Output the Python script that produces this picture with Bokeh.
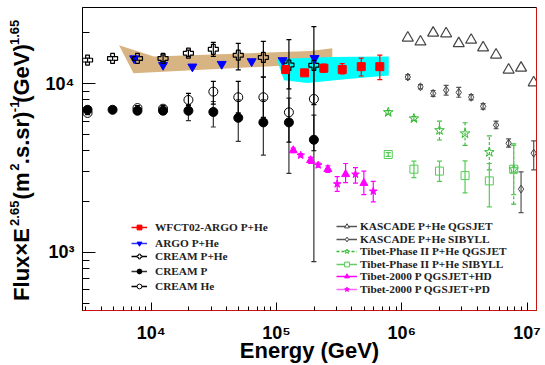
import math
from bokeh.plotting import figure
from bokeh.models import (Legend, LegendItem, FixedTicker, LogAxis, CustomJSTickFormatter)
from bokeh.embed import file_html
from bokeh.resources import INLINE

# ---------------- data ----------------
cream_e = [3100, 4910, 7760, 12420, 19800, 31300, 49500, 78500, 125600, 198700]
creamphe_f = [13780, 14100, 14100, 14100, 15140, 15960, 14740, 14290, 12890, 12840]
creamphe_lo = [13400, 13750, 13750, 13500, 14480, 14480, 12050, 10940, 9300, 7500]
creamphe_hi = [14150, 14450, 14450, 14800, 15800, 17570, 17300, 17800, 18240, 21780]

creamp_f = [6995, 6995, 6905, 6905, 6905, 6790, 6268, 5888, 5888, 4647]
creamp_lo = [6850, 6850, 6700, 6650, 6040, 5530, 4550, 3770, 2940, 880]
creamp_hi = [7150, 7150, 7100, 7150, 7480, 7830, 8000, 8000, 8200, 6500]

creamhe_e = [3100, 7760, 12420, 19800, 31300, 49500, 78500, 125600, 198700]
creamhe_f = [6700, 7160, 7100, 8000, 8960, 8300, 8300, 6760, 8110]
creamhe_lo = [6550, 6950, 6850, 7420, 7550, 6700, 6300, 4500, 4000]
creamhe_hi = [6850, 7400, 7400, 8740, 10310, 10300, 10930, 12000, 14000]

argo_e = [7300, 12420, 21300, 36500, 63300, 111900, 201400]
argo_f = [14100, 12890, 12600, 13060, 13550, 13740, 14150]

argo_band_e = [5530, 10500, 187000, 278600, 278600, 100000, 7210]
argo_band_f = [16900, 14450, 15600, 16180, 13420, 12700, 11530]

wfct_band_e = [100300, 270000, 787000, 787000, 389000, 176000, 114600]
wfct_band_f = [13970, 14360, 14490, 11170, 10690, 10090, 10450]

wfct_e = [118300, 167500, 238700, 334700, 474700, 668000]
wfct_f = [12110, 11580, 12330, 12110, 12600, 12600]
wfct_lo = [11750, 11250, 11690, 11430, 11090, 10550]
wfct_hi = [12480, 11920, 13060, 13120, 14160, 14730]

kas_e = [1.117e6, 1.41e6, 1.78e6, 2.26e6, 2.85e6, 3.58e6, 4.46e6, 5.66e6, 7.13e6, 8.96e6, 1.13e7]
kasq_f = [18660, 17690, 19950, 19780, 17300, 18120, 16330, 14800, 12060, 12380, 10130]
kass_f = [10940, 9570, 8750, 9140, 8870, 8300, 7330, 5680, 4430, 2370, 3870]
kass_lo = [10600, 9300, 8400, 8550, 8300, 8000, 7050, 5400, 4200, 1720, 3080]
kass_hi = [11300, 9850, 9100, 9770, 9500, 8600, 7600, 6000, 4700, 3000, 4580]

tib_e = [7.8e5, 1.25e6, 2.0e6, 3.2e6, 5.0e6, 7.82e6]
tibq_f = [6760, 6210, 5290, 5060, 3920, 3100]
tibq_lo = [6600, 6050, 4630, 4300, 3080, 1930]
tibq_hi = [6920, 6370, 6000, 5860, 4900, 4390]
tibs_f = [3800, 3110, 3030, 2850, 2650, 3110]
tibs_lo = [3700, 2770, 2630, 2250, 1860, 2200]
tibs_hi = [3900, 3470, 3470, 3480, 3360, 4300]

hd_e = [1.36e5, 1.87e5, 2.57e5, 3.56e5, 4.98e5]
hd_f = [4020, 3510, 3110, 2900, 2570]
hd_lo = [3900, 3370, 2980, 2590, 2200]
hd_hi = [4150, 3650, 3250, 3360, 3030]

pd_e = [1.56e5, 2.15e5, 3.05e5, 4.27e5, 5.92e5]
pd_f = [3760, 3290, 2540, 2900, 2300]
pd_lo = [3680, 3200, 2300, 2570, 1990]
pd_hi = [3850, 3380, 2810, 3180, 2630]

x_major = [1e4, 1e5, 1e6, 1e7]
x_minor = [m * 10 ** k for k in range(3, 7) for m in range(2, 10) if 2825 < m * 10 ** k < 1.19e7]
y_major = [1e3, 1e4]
y_minor = [m * 10 ** k for k in range(2, 5) for m in range(2, 10) if 452 < m * 10 ** k < 28250]

# y-title pieces: (text, centre on the canvas, in pixels from the top)
ytitle_main = ["Flux\u00d7E", "(m", ".s.sr)", "(GeV)"]
ytitle_main_c = [270.0, 189.6, 140.4, 74.5]
ytitle_sup = ["2.65", "2", "-1", "1.65"]
ytitle_sup_c = [217.5, 170.4, 108.2, 32.5]

# ---------------- figure ----------------
Y0, Y1 = 452, 28250
TOP, FH = 7, 310
p = figure(width=545, height=365, x_axis_type="log", y_axis_type="log",
           x_range=(2825, 1.19e7), y_range=(Y0, Y1),
           output_backend="svg", toolbar_location=None,
           min_border_left=82, min_border_right=9, min_border_top=TOP, min_border_bottom=48)
p.xgrid.visible = False
p.ygrid.visible = False
p.outline_line_color = "black"
p.outline_line_width = 1
p.background_fill_color = "white"

fmt = CustomJSTickFormatter(code="""
const e = Math.round(Math.log10(tick));
const s = {2:'\u00b2',3:'\u00b3',4:'\u2074',5:'\u2075',6:'\u2076',7:'\u2077'};
return '10' + s[e];
""")
for ax, maj, mnr, tin, tmin in ((p.xaxis[0], x_major, x_minor, 8, 4), (p.yaxis[0], y_major, y_minor, 13, 7)):
    ax.ticker = FixedTicker(ticks=maj, minor_ticks=mnr)
    ax.formatter = fmt
    ax.major_tick_in = tin
    ax.major_tick_out = 0
    ax.minor_tick_in = tmin
    ax.minor_tick_out = 0
    ax.major_label_text_font = "Liberation Sans"
    ax.major_label_text_font_style = "bold"
    ax.major_label_text_font_size = "18px"
    ax.major_label_text_color = "black"
    ax.major_label_standoff = 8
    ax.axis_line_color = "black"
    ax.major_tick_line_color = "black"
    ax.minor_tick_line_color = "black"
p.xaxis.major_label_standoff = 12
p.xaxis.axis_line_color = "#cc1111"
p.xaxis.axis_label = "Energy (GeV)"
p.xaxis.axis_label_text_font = "Liberation Sans"
p.xaxis.axis_label_text_font_style = "bold"
p.xaxis.axis_label_text_font_size = "22px"
p.xaxis.axis_label_text_color = "black"
p.xaxis.axis_label_standoff = -8

ra = LogAxis(ticker=FixedTicker(ticks=[], minor_ticks=[]), axis_line_color="#cc1111",
             major_tick_in=0, major_tick_out=0, minor_tick_in=0, minor_tick_out=0,
             major_label_standoff=0)
p.add_layout(ra, "right")

# y title drawn as the labels of two label-only axes (main text and superscripts)
pxdec = FH / (math.log10(Y1) - math.log10(Y0))


def canvas_to_y(cy):
    return 10 ** (math.log10(Y1) - (cy - TOP) / pxdec)


for texts, cents, size, standoff in ((ytitle_main, ytitle_main_c, "22px", 8),
                                     (ytitle_sup, ytitle_sup_c, "13px", -13)):
    vals = [canvas_to_y(c) for c in cents]
    order = sorted(range(len(vals)), key=lambda i: vals[i])
    vals = [vals[i] for i in order]
    labs = [texts[i] for i in order]
    ax = LogAxis(ticker=FixedTicker(ticks=vals, minor_ticks=[]),
                 formatter=CustomJSTickFormatter(args=dict(vals=vals, labs=labs), code="""
const i = vals.findIndex(v => Math.abs(v - tick) < 1e-6 * v);
return i < 0 ? '' : labs[i];
"""),
                 axis_line_color=None, major_tick_line_color=None, minor_tick_line_color=None,
                 major_tick_in=0, major_tick_out=0, minor_tick_in=0, minor_tick_out=0,
                 major_label_orientation="vertical", major_label_standoff=standoff,
                 major_label_text_font="Liberation Sans", major_label_text_font_style="bold",
                 major_label_text_font_size=size, major_label_text_color="black")
    p.add_layout(ax, "left")

# bands
p.patch(argo_band_e, argo_band_f, fill_color="#d8b483", line_color=None)
p.patch(wfct_band_e, wfct_band_f, fill_color="#00ffff", line_color=None)


def errbars(e, lo, hi, color, dash="solid"):
    p.segment(x0=e, y0=lo, x1=e, y1=hi, line_color=color, line_width=1.2, line_dash=dash)
    p.scatter(e, lo, marker="dash", size=5, line_color=color, line_width=1.2)
    p.scatter(e, hi, marker="dash", size=5, line_color=color, line_width=1.2)


errbars(cream_e, creamphe_lo, creamphe_hi, "black")
errbars(cream_e, creamp_lo, creamp_hi, "#333333")
errbars(creamhe_e, creamhe_lo, creamhe_hi, "black")
errbars(wfct_e, wfct_lo, wfct_hi, "#ff0000")
errbars(kas_e, kass_lo, kass_hi, "#555555")
errbars(tib_e, tibq_lo, tibq_hi, "#44bb44", "3 2")
errbars(tib_e, tibs_lo, tibs_hi, "#55cc55")
errbars(hd_e, hd_lo, hd_hi, "#ff00ff")
errbars(pd_e, pd_lo, pd_hi, "#ff00ff")

# markers
p.scatter(cream_e, creamp_f, marker="circle", size=9, fill_color="black", line_color="black")
p.scatter(creamhe_e, creamhe_f, marker="circle", size=9, fill_color=None, line_color="black", line_width=1)
p.scatter(argo_e, argo_f, marker="inverted_triangle", size=9, fill_color="#0000ff", line_color="#0000ff")
p.scatter(cream_e, creamphe_f, marker="plus", size=10, fill_color=None, line_color="black", line_width=1.2)
p.scatter(wfct_e, wfct_f, marker="square", size=8, fill_color="#ff0000", line_color="#ff0000")
p.scatter(kas_e, kasq_f, marker="triangle", size=11, fill_color=None, line_color="#444444", line_width=1.2)
p.scatter(kas_e, kass_f, marker="diamond", size=8, fill_color=None, line_color="#444444", line_width=1)
p.scatter(tib_e, tibq_f, marker="star", size=10, fill_color=None, line_color="#33bb33", line_width=1)
p.scatter(tib_e, tibs_f, marker="square", size=8, fill_color=None, line_color="#55cc55", line_width=1)
p.scatter(hd_e, hd_f, marker="triangle", size=8, fill_color="#ff00ff", line_color="#ff00ff")
p.scatter(pd_e, pd_f, marker="star", size=8, fill_color="#ff00ff", line_color="#ff00ff")

# ---------------- legends (one row per legend, placed row by row) ----------------
FL, FB = 82, TOP + FH


def proxy(label, xs, ys, lcolor, marker, size, fill, mcolor, dash="solid"):
    # hidden renderers built on the series' own data; only their legend glyph shows
    rl = p.line(x=xs, y=ys, line_color=lcolor, line_width=1.5, line_dash=dash, visible=False)
    rm = p.scatter(x=xs, y=ys, marker=marker, size=size, fill_color=fill, line_color=mcolor,
                   visible=False)
    return LegendItem(label=label, renderers=[rl, rm])


left_items = [
    proxy("WFCT02-ARGO P+He", wfct_e, wfct_f, "#ff0000", "square", 8, "#ff0000", "#ff0000"),
    proxy("ARGO P+He", argo_e, argo_f, "#3333ff", "inverted_triangle", 9, "#0000ff", "#0000ff"),
    proxy("CREAM P+He", cream_e, creamphe_f, "black", "plus", 8, "white", "black"),
    proxy("CREAM P", cream_e, creamp_f, "#333333", "circle", 8, "black", "black"),
    proxy("CREAM He", creamhe_e, creamhe_f, "black", "circle", 8, "white", "black"),
]
left_rows = [229.3, 245, 258.3, 273.3, 287.7]
right_items = [
    proxy("KASCADE P+He QGSJET", kas_e, kasq_f, "#555555", "triangle", 10, "white", "#444444"),
    proxy("KASCADE P+He SIBYLL", kas_e, kass_f, "#555555", "diamond", 8, "white", "#444444"),
    proxy("Tibet-Phase II P+He QGSJET", tib_e, tibq_f, "#33bb33", "star", 10, "white", "#33bb33", "3 2"),
    proxy("Tibet-Phase II P+He SIBYLL", tib_e, tibs_f, "#66cc66", "square", 8, "white", "#55cc55"),
    proxy("Tibet-2000 P QGSJET+HD", hd_e, hd_f, "#ff00ff", "triangle", 8, "#ff00ff", "#ff00ff"),
    proxy("Tibet-2000 P QGSJET+PD", pd_e, pd_f, "#ff66ff", "star", 8, "#ff00ff", "#ff00ff"),
]
right_rows = [228.3, 240.7, 252.7, 266, 278.3, 291]
ROWH = 12
SHIFT = 5
for items, rows, gx, gw, stand in ((left_items, left_rows, 131, 16, 8),
                                   (right_items, right_rows, 336, 21, 3)):
    for it, cy in zip(items, rows):
        leg = Legend(items=[it], location=(gx - FL, round(FB - cy - ROWH / 2 - SHIFT)),
                     glyph_width=gw, glyph_height=ROWH, label_height=ROWH,
                     label_standoff=stand, spacing=0, padding=0, margin=0,
                     border_line_color=None, background_fill_alpha=0,
                     label_text_font="Liberation Serif", label_text_font_style="bold",
                     label_text_font_size="11.3px", label_text_color="#222222")
        p.add_layout(leg)

open("out.html", "w").write(file_html(p, INLINE))
